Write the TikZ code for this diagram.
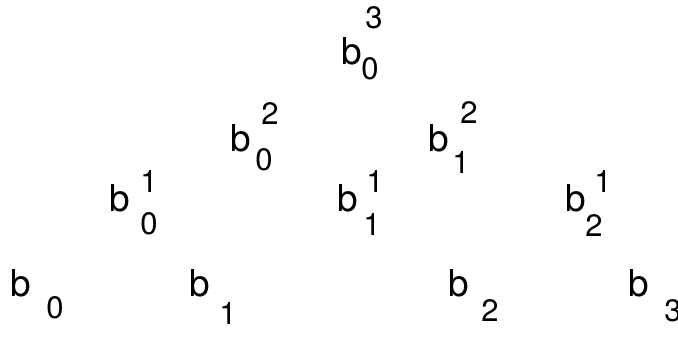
\documentclass[tikz,border=0pt]{standalone}
\usepackage{fontspec}
\setmainfont{TeX Gyre Heros}
\usetikzlibrary{positioning}

\begin{document}
\begin{tikzpicture}[x=1pt, y=-1pt,
    letter/.style={inner sep=0pt, font=\fontsize{37}{42}\selectfont},
    index/.style={inner sep=0pt, font=\fontsize{31}{36}\selectfont}]
  \useasboundingbox (0,0) rectangle (678,337);
  % the b's, row by row from the bottom
  \foreach \n/\x/\y in {b0/21/283, b1/200/283, b2/459/283, b3/639/283,
                         b10/120/198, b11/348/198, b12/576/198,
                         b20/241/138, b21/439/138,
                         b30/352/51}
    \node[letter] (\n) at (\x,\y) {b};
  % lower indices
  \foreach \n/\x/\y/\l in {b0/55/308/0, b1/228/314/1, b2/490/311/2, b3/673/311/3,
                           b10/149/224/0, b11/372/225/1, b12/594/226/2,
                           b20/264/160/0, b21/461/163/1,
                           b30/370/69/0}
    \node[index] (\n-sub) at (\x,\y) {\l};
  % upper indices
  \foreach \n/\x/\y/\l in {b10/149/182/1, b11/375/182/1, b12/603/182/1,
                           b20/270/114/2, b21/469/113/2,
                           b30/374/18/3}
    \node[index] (\n-sup) at (\x,\y) {\l};
\end{tikzpicture}
\end{document}
